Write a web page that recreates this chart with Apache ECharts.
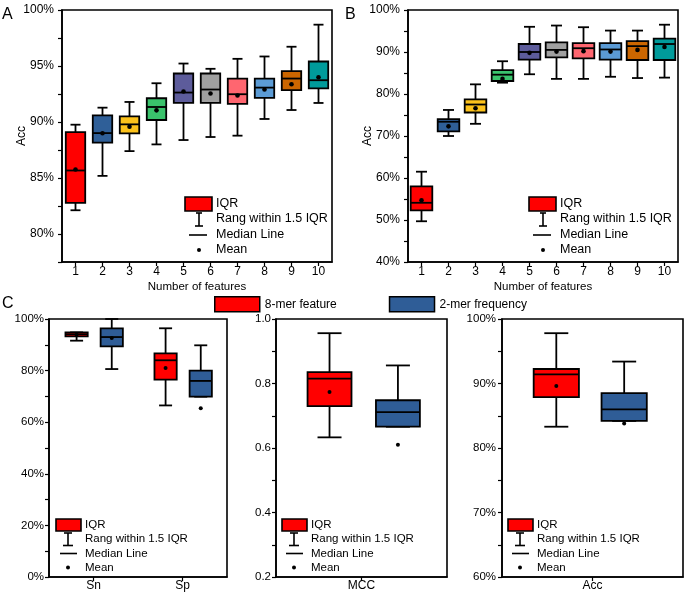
<!DOCTYPE html>
<html>
<head>
<meta charset="utf-8">
<script src="https://cdn.jsdelivr.net/npm/echarts@6/dist/echarts.min.js"></script>
<style>
html,body{margin:0;padding:0;background:#fff;}
#chart{width:685px;height:598px;}
</style>
</head>
<body>
<div id="chart"></div>
<script>
// ---------------- DATA ----------------
const featureCats = ['1','2','3','4','5','6','7','8','9','10'];
const featureColors = ['#ff0000','#2f5f98','#fcc21b','#3ac36c','#5d5c9b','#a0a0a0','#ff6670','#5b9bd5','#cc6600','#009b9b'];

// Panel A (Acc, %)
const aLow  = [82.12, 85.19, 87.40, 88.00, 88.39, 88.66, 88.78, 90.27, 91.07, 91.70];
const aQ1   = [82.78, 88.15, 88.99, 90.18, 91.70, 91.70, 91.61, 92.15, 92.84, 93.01];
const aMed  = [85.67, 89.01, 89.79, 91.34, 92.63, 92.90, 92.48, 93.07, 93.88, 93.73];
const aQ3   = [89.10, 90.60, 90.51, 92.12, 94.33, 94.33, 93.88, 93.88, 94.54, 95.40];
const aHigh = [89.76, 91.28, 91.79, 93.46, 95.22, 94.75, 95.64, 95.85, 96.72, 98.69];
const aMean = [85.76, 89.00, 89.58, 91.04, 92.72, 92.54, 92.36, 92.90, 93.37, 94.00];

// Panel B (Acc, %)
const bLow  = [49.7, 70.0, 72.9, 82.7, 84.7, 83.6, 83.6, 84.1, 83.8, 83.9];
const bQ1   = [52.3, 71.1, 75.6, 83.1, 88.2, 88.7, 88.5, 88.2, 88.1, 88.1];
const bMed  = [54.1, 73.4, 77.5, 84.6, 90.0, 90.5, 90.9, 90.6, 91.4, 91.9];
const bQ3   = [58.0, 74.0, 78.7, 85.7, 91.9, 92.3, 92.1, 92.1, 92.6, 93.2];
const bHigh = [61.5, 76.2, 82.3, 87.8, 96.0, 96.3, 95.9, 95.1, 95.1, 96.5];
const bMean = [54.7, 72.3, 76.6, 83.6, 89.8, 90.1, 90.2, 90.1, 90.5, 91.2];

// Panel C
const groupNames = ['8-mer feature', '2-mer frequency'];
const groupColors = ['#ff0000', '#2f5d97'];
const c1Cats = ['Sn', 'Sp'];
const c1KmerLow  = [91.6, 66.5], c1KmerQ1 = [93.3, 76.5], c1KmerMed = [94.1, 84.0], c1KmerQ3 = [94.8, 86.7], c1KmerHigh = [94.8, 96.4], c1KmerMean = [93.9, 81.0];
const c1FreqLow  = [80.6, 69.9], c1FreqQ1 = [89.4, 69.9], c1FreqMed = [93.0, 76.0], c1FreqQ3 = [96.4, 80.0], c1FreqHigh = [100.0, 89.8], c1FreqMean = [92.6, 65.4];
const c2Cats = ['MCC'];
const c2KmerLow = [0.633], c2KmerQ1 = [0.730], c2KmerMed = [0.815], c2KmerQ3 = [0.835], c2KmerHigh = [0.956], c2KmerMean = [0.774];
const c2FreqLow = [0.666], c2FreqQ1 = [0.666], c2FreqMed = [0.711], c2FreqQ3 = [0.748], c2FreqHigh = [0.856], c2FreqMean = [0.610];
const c3Cats = ['Acc'];
const c3KmerLow = [83.3], c3KmerQ1 = [87.9], c3KmerMed = [91.4], c3KmerQ3 = [92.25], c3KmerHigh = [97.8], c3KmerMean = [89.6];
const c3FreqLow = [84.2], c3FreqQ1 = [84.2], c3FreqMed = [86.0], c3FreqQ3 = [88.5], c3FreqHigh = [93.4], c3FreqMean = [83.8];

const keyLabels = ['IQR', 'Rang within 1.5 IQR', 'Median Line', 'Mean'];

// ---------------- BUILD ----------------
const FONT = '"Liberation Sans", Arial, sans-serif';
function rows(low, q1, med, q3, high, mean) {
  return low.map((v, i) => [i, low[i], q1[i], med[i], q3[i], high[i], mean[i]]);
}
function makeRender(o) {
  return function (params, api) {
    const ci = api.value(0);
    const band = api.size([1, 0])[0];
    const p = api.coord([ci, api.value(3)]);
    const cx = p[0] + band * o.offset;
    const Y = k => api.coord([ci, api.value(k)])[1];
    const yLow = Y(1), yQ1 = Y(2), yMed = Y(3), yQ3 = Y(4), yHigh = Y(5), yMean = Y(6);
    const hw = band * o.width / 2, cw = o.cap / 2;
    const fill = o.colors ? o.colors[params.dataIndex] : o.color;
    const ls = { stroke: '#000', lineWidth: o.lw };
    return {
      type: 'group',
      children: [
        { type: 'line', shape: { x1: cx, y1: yHigh, x2: cx, y2: yLow }, style: ls },
        { type: 'line', shape: { x1: cx - cw, y1: yHigh, x2: cx + cw, y2: yHigh }, style: ls },
        { type: 'line', shape: { x1: cx - cw, y1: yLow, x2: cx + cw, y2: yLow }, style: ls },
        { type: 'rect', shape: { x: cx - hw, y: yQ3, width: 2 * hw, height: yQ1 - yQ3 }, style: { fill: fill, stroke: '#000', lineWidth: o.lw } },
        { type: 'line', shape: { x1: cx - hw, y1: yMed, x2: cx + hw, y2: yMed }, style: ls },
        { type: 'circle', shape: { cx: cx, cy: yMean, r: o.r }, style: { fill: '#000' } }
      ]
    };
  };
}
const labelStyle = (size, margin) => ({ color: '#000', fontFamily: FONT, fontSize: size, margin: margin });
function yAxisCfg(idx, min, max, interval, showFn, fmtFn, size, margin, name) {
  return {
    type: 'value', gridIndex: idx, min: min, max: max, interval: interval,
    name: name || '', nameLocation: 'middle', nameGap: 34, nameMoveOverlap: false,
    nameTextStyle: { color: '#000', fontFamily: FONT, fontSize: 12 },
    axisLine: { show: true, lineStyle: { color: '#000', width: 1.6 } },
    axisTick: { show: true, inside: false, length: 4, lineStyle: { color: '#000', width: 1.2 } },
    splitLine: { show: false },
    axisLabel: Object.assign(labelStyle(size, margin), { formatter: v => showFn(v) ? fmtFn(v) : '' })
  };
}
function xAxisCfg(idx, cats, size, margin, name) {
  return {
    type: 'category', gridIndex: idx, data: cats, boundaryGap: true,
    name: name || '', nameLocation: 'middle', nameGap: 19, nameMoveOverlap: false,
    nameTextStyle: { color: '#000', fontFamily: FONT, fontSize: 11.5 },
    axisLine: { show: true, lineStyle: { color: '#000', width: 1.6 } },
    axisTick: { show: true, alignWithLabel: true, length: 4, lineStyle: { color: '#000', width: 1.2 } },
    splitLine: { show: false },
    axisLabel: labelStyle(size, margin)
  };
}
const gridStyle = { show: true, borderColor: '#000', borderWidth: 1.6, backgroundColor: 'transparent' };

const pct = v => v + '%';
const series = [
  { type: 'custom', name: 'A', xAxisIndex: 0, yAxisIndex: 0, data: rows(aLow, aQ1, aMed, aQ3, aHigh, aMean),
    renderItem: makeRender({ colors: featureColors, offset: 0, width: 0.72, cap: 10, lw: 1.8, r: 2.3 }),
    encode: { x: 0, y: [1, 2, 3, 4, 5, 6] } },
  { type: 'custom', name: 'B', xAxisIndex: 1, yAxisIndex: 1, data: rows(bLow, bQ1, bMed, bQ3, bHigh, bMean),
    renderItem: makeRender({ colors: featureColors, offset: 0, width: 0.8, cap: 11, lw: 1.8, r: 2.3 }),
    encode: { x: 0, y: [1, 2, 3, 4, 5, 6] } }
];
const cGroups = [
  { idx: 2, data: [rows(c1KmerLow, c1KmerQ1, c1KmerMed, c1KmerQ3, c1KmerHigh, c1KmerMean), rows(c1FreqLow, c1FreqQ1, c1FreqMed, c1FreqQ3, c1FreqHigh, c1FreqMean)], off: [-0.19, 0.205], width: 0.25, cap: 13 },
  { idx: 3, data: [rows(c2KmerLow, c2KmerQ1, c2KmerMed, c2KmerQ3, c2KmerHigh, c2KmerMean), rows(c2FreqLow, c2FreqQ1, c2FreqMed, c2FreqQ3, c2FreqHigh, c2FreqMean)], off: [-0.187, 0.213], width: 0.257, cap: 24 },
  { idx: 4, data: [rows(c3KmerLow, c3KmerQ1, c3KmerMed, c3KmerQ3, c3KmerHigh, c3KmerMean), rows(c3FreqLow, c3FreqQ1, c3FreqMed, c3FreqQ3, c3FreqHigh, c3FreqMean)], off: [-0.2, 0.175], width: 0.25, cap: 24 }
];
cGroups.forEach(g => {
  [0, 1].forEach(k => {
    series.push({
      type: 'custom', name: groupNames[k], xAxisIndex: g.idx, yAxisIndex: g.idx, data: g.data[k],
      itemStyle: { color: groupColors[k], borderColor: '#000', borderWidth: 1.5 },
      renderItem: makeRender({ color: groupColors[k], offset: g.off[k], width: g.width, cap: g.cap, lw: 1.8, r: 2 }),
      encode: { x: 0, y: [1, 2, 3, 4, 5, 6] }
    });
  });
});

// explanatory key (graphic)
function key(L, T, big) {
  const s = big ? { sw: 27, sh: 14, ib: 14, ml: 4, mr: 22, tx: 31, rows: [7, 22, 38, 53], fs: 12.5, cap: 6, ih: [16, 29] }
                : { sw: 25, sh: 12, ib: 12, ml: 4, mr: 21, tx: 29, rows: [6, 20, 34.5, 48.5], fs: 11.5, cap: 8, ih: [14, 26.5] };
  const ls = { stroke: '#000', lineWidth: 1.6 };
  const els = [
    { type: 'rect', shape: { x: L, y: T, width: s.sw, height: s.sh }, style: { fill: '#ff0000', stroke: '#000', lineWidth: 1.6 } },
    { type: 'line', shape: { x1: L + s.ib, y1: T + s.ih[0], x2: L + s.ib, y2: T + s.ih[1] }, style: ls },
    { type: 'line', shape: { x1: L + s.ib - s.cap / 2, y1: T + s.ih[0], x2: L + s.ib + s.cap / 2, y2: T + s.ih[0] }, style: ls },
    { type: 'line', shape: { x1: L + s.ib - s.cap / 2 - 1, y1: T + s.ih[1], x2: L + s.ib + s.cap / 2 + 1, y2: T + s.ih[1] }, style: ls },
    { type: 'line', shape: { x1: L + s.ml, y1: T + s.rows[2], x2: L + s.mr, y2: T + s.rows[2] }, style: ls },
    { type: 'circle', shape: { cx: L + s.ib, cy: T + s.rows[3], r: 2 }, style: { fill: '#000' } }
  ];
  keyLabels.forEach((t, i) => {
    els.push({ type: 'text', x: L + s.tx, y: T + s.rows[i], style: { text: t, fill: '#000', font: s.fs + 'px ' + FONT, textVerticalAlign: 'middle', textAlign: 'left' } });
  });
  return els;
}
const letter = (t, x, y) => ({ type: 'text', x: x, y: y, style: { text: t, fill: '#000', font: '16px ' + FONT, textVerticalAlign: 'top' } });

const option = {
  animation: false,
  backgroundColor: '#fff',
  textStyle: { fontFamily: FONT },
  grid: [
    Object.assign({ left: 62, top: 10, width: 270, height: 252 }, gridStyle),
    Object.assign({ left: 408, top: 10, width: 270, height: 252 }, gridStyle),
    Object.assign({ left: 49, top: 319, width: 178, height: 258 }, gridStyle),
    Object.assign({ left: 276, top: 319, width: 171, height: 258 }, gridStyle),
    Object.assign({ left: 502, top: 319, width: 181, height: 258 }, gridStyle)
  ],
  xAxis: [
    xAxisCfg(0, featureCats, 12, 4, 'Number of features'),
    xAxisCfg(1, featureCats, 12, 4, 'Number of features'),
    xAxisCfg(2, c1Cats, 12, 3),
    xAxisCfg(3, c2Cats, 12, 3),
    xAxisCfg(4, c3Cats, 12, 3)
  ],
  yAxis: [
    yAxisCfg(0, 77.5, 100, 2.5, v => v % 5 === 0, pct, 12, 8, 'Acc'),
    yAxisCfg(1, 40, 100, 5, v => v % 10 === 0, pct, 12, 8, 'Acc'),
    yAxisCfg(2, 0, 100, 10, v => v % 20 === 0, pct, 11.5, 5),
    yAxisCfg(3, 0.2, 1.0, 0.1, v => Math.round(v * 10) % 2 === 0, v => (Math.round(v * 10) / 10).toFixed(1), 11.5, 5),
    yAxisCfg(4, 60, 100, 5, v => v % 10 === 0, pct, 11.5, 6)
  ],
  legend: {
    left: 214, top: 296, padding: 0, itemWidth: 45, itemHeight: 15, itemGap: 52, icon: 'rect',
    textStyle: { color: '#000', fontFamily: FONT, fontSize: 12 },
    data: [
      { name: groupNames[0], itemStyle: { color: groupColors[0], borderColor: '#000', borderWidth: 1.5 } },
      { name: groupNames[1], itemStyle: { color: groupColors[1], borderColor: '#000', borderWidth: 1.5 } }
    ]
  },
  series: series,
  graphic: [].concat(
    key(185, 197, true),
    key(529, 197, true),
    key(56, 519, false),
    key(282, 519, false),
    key(508, 519, false),
    [letter('A', 2, 7), letter('B', 345, 7), letter('C', 2, 296)]
  )
};
const chart = echarts.init(document.getElementById('chart'), null, { renderer: 'canvas' });
chart.setOption(option);
</script>
</body>
</html>
